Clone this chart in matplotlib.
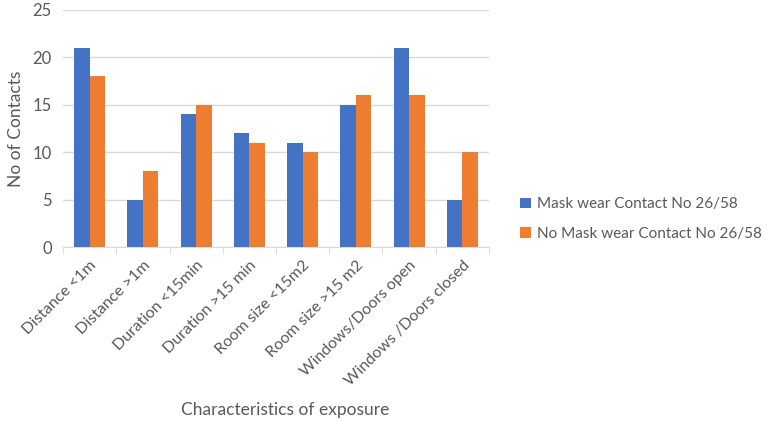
import numpy as np
import matplotlib.pyplot as plt

# Dados do gráfico
categorias = ['Distance <1m', 'Distance >1m', 'Duration <15min', 'Duration >15 min',
              'Room size <15m2', 'Room size >15 m2', 'Windows/Doors open', 'Windows /Doors closed']
com_mascara = [21, 5, 14, 12, 11, 15, 21, 5]
sem_mascara = [18, 8, 15, 11, 10, 16, 16, 10]
rotulos = ['Mask wear Contact No 26/58', 'No Mask wear Contact No 26/58']

plt.rcParams['font.family'] = ['Lato', 'DejaVu Sans']
cinza = '#595959'

fig = plt.figure(figsize=(7.72, 4.25), dpi=100)
ax = fig.add_axes([63/772, 1 - 247/425, (489 - 63)/772, (247 - 10)/425])

x = np.arange(len(categorias))
largura = 0.29
ax.bar(x - largura/2, com_mascara, largura, color='#4472C4', label=rotulos[0], zorder=3)
ax.bar(x + largura/2, sem_mascara, largura, color='#ED7D31', label=rotulos[1], zorder=3)

ax.set_xlim(-0.5, len(categorias) - 0.5)
ax.set_ylim(0, 25)
ax.set_yticks(range(0, 26, 5))
ax.yaxis.grid(True, color='#D9D9D9', linewidth=1, zorder=0)
ax.tick_params(axis='y', length=0, labelsize=12, labelcolor=cinza, pad=8)

ax.set_xticks(x)
ax.set_xticklabels(categorias, rotation=45, ha='right', rotation_mode='anchor',
                   fontsize=11.5, color=cinza)
ax.tick_params(axis='x', which='major', length=0, pad=8)
ax.set_xticks(np.arange(-0.5, len(categorias), 1), minor=True)
ax.tick_params(axis='x', which='minor', length=5, color='#D9D9D9')

for lado in ['top', 'right', 'left']:
    ax.spines[lado].set_visible(False)
ax.spines['bottom'].set_color('#D9D9D9')

ax.set_ylabel('No of Contacts', fontsize=12.5, color=cinza, labelpad=6)
fig.text(285/772, 1 - 410/425, 'Characteristics of exposure', fontsize=12.5,
         color=cinza, ha='center', va='center')

fig.legend(loc='center left', bbox_to_anchor=(520/772, 1 - 219/425), frameon=False,
           fontsize=11, labelcolor=cinza, handlelength=0.7, handleheight=0.7,
           handletextpad=0.4, labelspacing=1.0, borderaxespad=0, borderpad=0)

fig.savefig('out.png', dpi=100)
